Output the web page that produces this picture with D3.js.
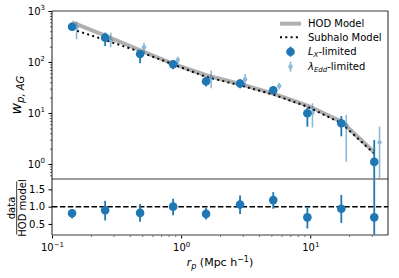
<!DOCTYPE html>
<html>
<head>
<meta charset="utf-8">
<script src="https://cdn.jsdelivr.net/npm/d3@7"></script>
<style>
  body { margin: 0; background: #fff; }
  text { font-family: "DejaVu Sans", sans-serif; fill: #000; }
</style>
</head>
<body>
<svg id="chart" width="399" height="278"></svg>
<script>
// separations (Mpc/h)
const rpLx = [0.143, 0.258, 0.481, 0.867, 1.56, 2.86, 5.17, 9.5, 17.4, 31.3];
const rpEdd = [0.155, 0.285, 0.516, 0.943, 1.71, 3.13, 5.75, 10.4, 19.0, 34.4];

// L_X-limited sample
const wpLx = [490, 300, 143, 90, 42, 38, 28, 9.9, 6.3, 1.1];
const wpLxLo = [411, 206, 94, 72, 33, 30.5, 24, 5.4, 3.5, 0.05];
const wpLxHi = [590, 376, 172, 110, 51, 46, 33, 12.9, 8.7, 2.95];

// lambda_Edd-limited sample
const wpEdd = [470, 262, 194, 110, 48, 46, 34, 10.1, 5.8, 2.66];
const wpEddLo = [278, 194, 152, 91, 30.5, 34, 29, 5.2, 1.1, 0.3];
const wpEddHi = [617, 376, 239, 127, 68, 58, 39, 15.5, 9.1, 5.4];

// models
const hodModel = [600, 330, 170, 92, 55, 37, 24, 14, 6.8, 1.7];
const subhaloModel = [440, 270, 158, 90, 51, 35, 23, 13.3, 6.3, 1.6];

// data / HOD model
const ratio = [0.81, 0.894, 0.82, 1.0, 0.79, 1.06, 1.19, 0.69, 0.94, 0.69];
const ratioLo = [0.66, 0.6, 0.56, 0.75, 0.63, 0.79, 0.94, 0.37, 0.53, -1];
const ratioHi = [0.93, 1.17, 1.08, 1.23, 0.96, 1.32, 1.42, 1.0, 1.34, 2.5];

const xTicks = [0.1, 1, 10];
const yTopTicks = [1, 10, 100, 1000];
const yBotTicks = [0.5, 1.0, 1.5];

const blue = "#1f77b4";
const pLeft = 52, pRight = 388, pTop = 11, pMid = 179, pBottom = 235;

const svg = d3.select("#chart");

const x = d3.scaleLog().domain([0.1, 40]).range([pLeft, pRight]);
const yTop = d3.scaleLog().domain([0.508, 1000]).range([pMid, pTop]);
const yBot = d3.scaleLinear().domain([0.18, 1.8]).range([pBottom, pMid]);

// clip paths
const defs = svg.append("defs");
defs.append("clipPath").attr("id", "clipTop")
    .append("rect").attr("x", pLeft).attr("y", pTop).attr("width", pRight - pLeft).attr("height", pMid - pTop);
defs.append("clipPath").attr("id", "clipBot")
    .append("rect").attr("x", pLeft).attr("y", pMid).attr("width", pRight - pLeft).attr("height", pBottom - pMid);

// minor tick values for log axes
const minors = (lo, hi) => {
    const out = [];
    for (let e = lo; e < hi; e++) {
        for (let k = 2; k <= 9; k++) out.push(k * Math.pow(10, e));
    }
    return out;
};

// superscript power labels, e.g. 10^-1
const powLabel = (sel) => {
    sel.each(function (d) {
        const t = d3.select(this);
        const p = Math.round(Math.log10(d));
        t.text("");
        t.append("tspan").text("10");
        t.append("tspan").attr("dy", -4.5).attr("font-size", 7)
            .text(p < 0 ? "\u2212" + Math.abs(p) : p);
    });
};

// ---- top panel ----
const gTop = svg.append("g").attr("clip-path", "url(#clipTop)");

const line = (vals) => d3.line()
    .x((d, i) => x(rpLx[i]))
    .y((d) => yTop(d))(vals);

gTop.append("path")
    .attr("d", line(hodModel))
    .attr("fill", "none")
    .attr("stroke", "#b0b0b0")
    .attr("stroke-width", 4)
    .attr("stroke-linejoin", "round");

gTop.append("path")
    .attr("d", line(subhaloModel))
    .attr("fill", "none")
    .attr("stroke", "#000")
    .attr("stroke-width", 2)
    .attr("stroke-dasharray", "2,3.3");

// L_X-limited points
const lx = wpLx.map((v, i) => ({ x: rpLx[i], v, lo: wpLxLo[i], hi: wpLxHi[i] }));
gTop.selectAll(".lxbar").data(lx).join("line")
    .attr("x1", (d) => x(d.x)).attr("x2", (d) => x(d.x))
    .attr("y1", (d) => yTop(Math.max(d.lo, 0.01))).attr("y2", (d) => yTop(d.hi))
    .attr("stroke", blue).attr("stroke-width", 1.8);
gTop.selectAll(".lxpt").data(lx).join("circle")
    .attr("cx", (d) => x(d.x)).attr("cy", (d) => yTop(d.v))
    .attr("r", 4.3).attr("fill", blue);

// lambda_Edd-limited points
const edd = wpEdd.map((v, i) => ({ x: rpEdd[i], v, lo: wpEddLo[i], hi: wpEddHi[i] }));
const gEdd = gTop.append("g").attr("opacity", 0.5);
gEdd.selectAll("line").data(edd).join("line")
    .attr("x1", (d) => x(d.x)).attr("x2", (d) => x(d.x))
    .attr("y1", (d) => yTop(Math.max(d.lo, 0.01))).attr("y2", (d) => yTop(d.hi))
    .attr("stroke", blue).attr("stroke-width", 1.6);
gEdd.selectAll("circle").data(edd).join("circle")
    .attr("cx", (d) => x(d.x)).attr("cy", (d) => yTop(d.v))
    .attr("r", 2.2).attr("fill", blue);

// top y axis
svg.append("g").attr("transform", `translate(${pLeft},0)`)
    .call(d3.axisLeft(yTop).tickValues(yTopTicks).tickSize(3.5).tickPadding(3.5))
    .call((g) => g.select(".domain").remove())
    .call((g) => g.selectAll("text").attr("font-size", 10).call(powLabel));
svg.append("g").attr("transform", `translate(${pLeft},0)`)
    .call(d3.axisLeft(yTop).tickValues(minors(-1, 3).filter((v) => v > 0.508)).tickSize(2).tickFormat(""))
    .call((g) => g.select(".domain").remove())
    .call((g) => g.selectAll("line").attr("stroke-width", 0.6));

// ---- bottom panel ----
const gBot = svg.append("g").attr("clip-path", "url(#clipBot)");

gBot.append("line")
    .attr("x1", pLeft).attr("x2", pRight)
    .attr("y1", yBot(1)).attr("y2", yBot(1))
    .attr("stroke", "#000").attr("stroke-width", 1.5)
    .attr("stroke-dasharray", "5.5,2.4");

const rt = ratio.map((v, i) => ({ x: rpLx[i], v, lo: ratioLo[i], hi: ratioHi[i] }));
gBot.selectAll(".rbar").data(rt).join("line")
    .attr("x1", (d) => x(d.x)).attr("x2", (d) => x(d.x))
    .attr("y1", (d) => yBot(d.lo)).attr("y2", (d) => yBot(d.hi))
    .attr("stroke", blue).attr("stroke-width", 1.8);
gBot.selectAll(".rpt").data(rt).join("circle")
    .attr("cx", (d) => x(d.x)).attr("cy", (d) => yBot(d.v))
    .attr("r", 4.3).attr("fill", blue);

svg.append("g").attr("transform", `translate(${pLeft},0)`)
    .call(d3.axisLeft(yBot).tickValues(yBotTicks).tickSize(3.5).tickPadding(3.5).tickFormat(d3.format(".1f")))
    .call((g) => g.select(".domain").remove())
    .call((g) => g.selectAll("text").attr("font-size", 10));

// bottom x axis
svg.append("g").attr("transform", `translate(0,${pBottom})`)
    .call(d3.axisBottom(x).tickValues(xTicks).tickSize(3.5).tickPadding(3.5))
    .call((g) => g.select(".domain").remove())
    .call((g) => g.selectAll("text").attr("font-size", 10).attr("dy", "0.9em").call(powLabel));
svg.append("g").attr("transform", `translate(0,${pBottom})`)
    .call(d3.axisBottom(x).tickValues(minors(-1, 2).filter((v) => v < 40)).tickSize(2).tickFormat(""))
    .call((g) => g.select(".domain").remove())
    .call((g) => g.selectAll("line").attr("stroke-width", 0.6));

// frames: vertical spines crisp black, horizontal ones softer grey
[pTop, pMid, pBottom].forEach((yy) => {
    svg.append("line")
        .attr("x1", pLeft).attr("x2", pRight).attr("y1", yy).attr("y2", yy)
        .attr("stroke", "#7a7a7a").attr("stroke-width", 1.3);
});
[pLeft, pRight].forEach((xx) => {
    svg.append("line")
        .attr("x1", xx).attr("x2", xx).attr("y1", pTop).attr("y2", pBottom)
        .attr("stroke", "#000").attr("stroke-width", 0.9);
});

// ---- labels ----
const yl = svg.append("text")
    .attr("transform", `translate(21,${(pTop + pMid) / 2}) rotate(-90)`)
    .attr("text-anchor", "middle").attr("font-size", 14);
yl.append("tspan").attr("font-style", "italic").text("w");
yl.append("tspan").attr("font-style", "italic").attr("font-size", 10).attr("dy", 3).text("p, AG");

const frac = svg.append("g").attr("transform", "translate(16.7,208) rotate(-90)");
frac.append("text").attr("text-anchor", "middle").attr("y", -2).attr("font-size", 10).text("data");
frac.append("line").attr("x1", -26.5).attr("x2", 26.5).attr("y1", 0).attr("y2", 0)
    .attr("stroke", "#000").attr("stroke-width", 0.8);
frac.append("text").attr("text-anchor", "middle").attr("y", 9.5).attr("font-size", 10).text("HOD model");

const xl = svg.append("text")
    .attr("x", (pLeft + pRight) / 2).attr("y", 266)
    .attr("text-anchor", "middle").attr("font-size", 11);
xl.append("tspan").attr("font-style", "italic").text("r");
xl.append("tspan").attr("font-style", "italic").attr("font-size", 8).attr("dy", 2.5).text("p");
xl.append("tspan").attr("dy", -2.5).text(" (Mpc h");
xl.append("tspan").attr("font-size", 8).attr("dy", -4.5).text("\u22121");
xl.append("tspan").attr("dy", 4.5).text(")");

// ---- legend ----
const lg = svg.append("g");
const lgX0 = 280, lgX1 = 301, lgTx = 308;
const rows = [23.7, 37.3, 51.7, 66.7];

lg.append("line").attr("x1", lgX0).attr("x2", lgX1).attr("y1", rows[0]).attr("y2", rows[0])
    .attr("stroke", "#b0b0b0").attr("stroke-width", 4);
lg.append("line").attr("x1", lgX0).attr("x2", lgX1).attr("y1", rows[1]).attr("y2", rows[1])
    .attr("stroke", "#000").attr("stroke-width", 2).attr("stroke-dasharray", "2,3.3");
const mx = (lgX0 + lgX1) / 2;
lg.append("line").attr("x1", mx).attr("x2", mx).attr("y1", rows[2] - 5).attr("y2", rows[2] + 5)
    .attr("stroke", blue).attr("stroke-width", 1.8);
lg.append("circle").attr("cx", mx).attr("cy", rows[2]).attr("r", 4.3).attr("fill", blue);
const le = lg.append("g").attr("opacity", 0.5);
le.append("line").attr("x1", mx).attr("x2", mx).attr("y1", rows[3] - 5).attr("y2", rows[3] + 5)
    .attr("stroke", blue).attr("stroke-width", 1.6);
le.append("circle").attr("cx", mx).attr("cy", rows[3]).attr("r", 2.2).attr("fill", blue);

const lt = (i) => lg.append("text").attr("x", lgTx).attr("y", rows[i] + 3.6).attr("font-size", 10);
lt(0).text("HOD Model");
lt(1).text("Subhalo Model");
const t2 = lt(2);
t2.append("tspan").attr("font-style", "italic").text("L");
t2.append("tspan").attr("font-style", "italic").attr("font-size", 7).attr("dy", 2).text("X");
t2.append("tspan").attr("dy", -2).text("-limited");
const t3 = lt(3);
t3.append("tspan").attr("font-style", "italic").text("\u03bb");
t3.append("tspan").attr("font-style", "italic").attr("font-size", 7).attr("dy", 2).text("Edd");
t3.append("tspan").attr("dy", -2).text("-limited");
</script>
</body>
</html>
